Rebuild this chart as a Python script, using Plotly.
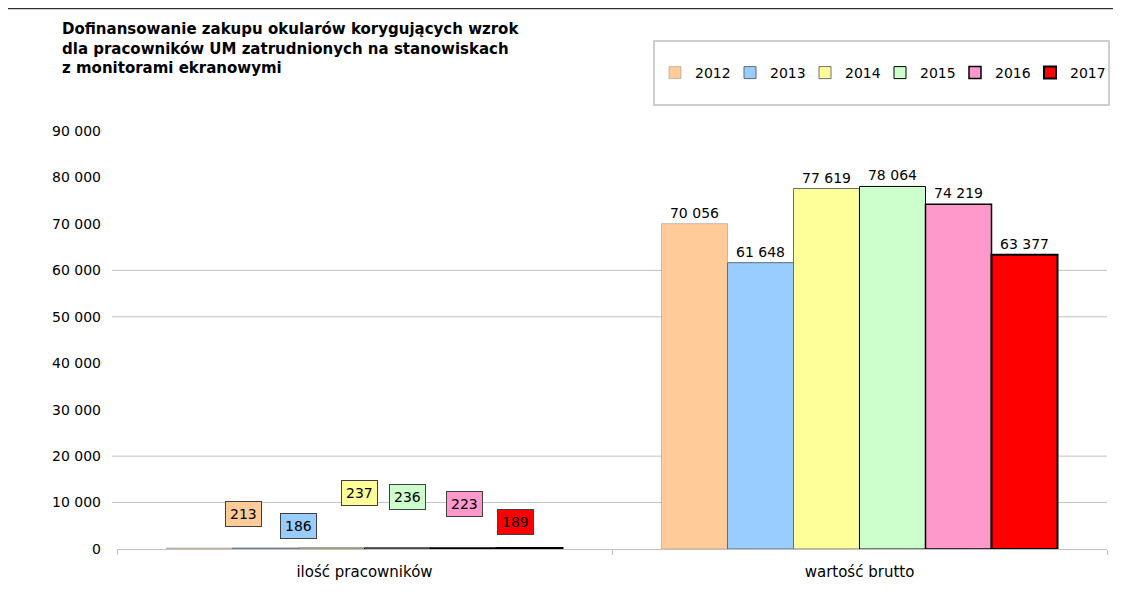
import plotly.graph_objects as go

categories = ["ilość pracowników", "wartość brutto"]
years = ["2012", "2013", "2014", "2015", "2016", "2017"]
employees = [213, 186, 237, 236, 223, 189]
gross_value = [70056, 61648, 77619, 78064, 74219, 63377]
colors = ["#FFCC99", "#99CCFF", "#FFFF99", "#CCFFCC", "#FF99CC", "#FF0000"]
edge_colors = ["#8a8a8a", "#5f6b78", "#6e6e6e", "#000000", "#000000", "#000000"]
edge_widths = [0.5, 1, 1, 1, 1.5, 2]

# placement of the boxed labels of the first group (category index units, y units)
label_x = [-0.245, -0.134, -0.011, 0.086, 0.203, 0.306]
label_y = [7536, 4952, 12057, 11196, 9689, 5813]

y_ticks = list(range(0, 90001, 10000))
visible_grid = [10000, 20000, 50000, 60000]

title_lines = [
    "Dofinansowanie zakupu okularów korygujących wzrok",
    "dla pracowników UM zatrudnionych na stanowiskach",
    "z monitorami ekranowymi",
]

FONT = "DejaVu Sans"
PAGE_OFFSET = 8  # default page margin of the html body
W, H = 1121 - PAGE_OFFSET, 599 - PAGE_OFFSET
PLOT_L, PLOT_T, PLOT_W, PLOT_H = 117, 131, 990, 418  # in screenshot pixels


def px_x(px):
    return (px - PLOT_L) / PLOT_W


def px_y(py):
    return (PLOT_T + PLOT_H - py) / PLOT_H


fig = go.Figure()
for i, yr in enumerate(years):
    fig.add_trace(go.Bar(
        name=yr,
        x=categories,
        y=[employees[i], gross_value[i]],
        text=["", f"{gross_value[i]:,}".replace(",", " ")],
        textposition="outside",
        textfont=dict(family=FONT, size=14, color="#000000"),
        cliponaxis=False,
        marker=dict(color=colors[i], line=dict(color=edge_colors[i], width=edge_widths[i])),
    ))

annotations = []
for i in range(len(years)):
    annotations.append(dict(
        x=label_x[i], y=label_y[i], xref="x", yref="y",
        text=str(employees[i]), showarrow=False,
        font=dict(family=FONT, size=14, color="#000000"),
        bgcolor=colors[i], bordercolor="#404040", borderwidth=1, borderpad=4,
    ))

shapes = []
for g in visible_grid:
    shapes.append(dict(type="line", xref="paper", yref="y", x0=-5 / PLOT_W, x1=1.0,
                       y0=g, y1=g, line=dict(color="#c0c0c0", width=1), layer="below"))
# legend frame
shapes.append(dict(type="rect", xref="paper", yref="paper",
                   x0=px_x(654), x1=px_x(1109), y0=px_y(105), y1=px_y(41),
                   line=dict(color="#bfbfbf", width=1.5), fillcolor="rgba(0,0,0,0)"))
# top rule
shapes.append(dict(type="line", xref="paper", yref="paper",
                   x0=px_x(0), x1=px_x(1121), y0=px_y(8.7), y1=px_y(8.7),
                   line=dict(color="#000000", width=1)))

fig.update_layout(
    width=W, height=H,
    margin=dict(l=PLOT_L - PAGE_OFFSET, r=W - (PLOT_L - PAGE_OFFSET) - PLOT_W,
                t=PLOT_T - PAGE_OFFSET, b=H - (PLOT_T - PAGE_OFFSET) - PLOT_H, pad=0),
    paper_bgcolor="white", plot_bgcolor="white",
    separators=", ",
    barmode="group", bargap=0.2, bargroupgap=0,
    title=dict(
        text="<br>".join(title_lines),
        x=(62 - PAGE_OFFSET) / W, xanchor="left", xref="container",
        y=1 - (34 - PAGE_OFFSET) / H, yanchor="top", yref="container",
        font=dict(family=FONT, size=15, color="#000000", weight="bold"),
    ),
    legend=dict(
        orientation="h", x=px_x(655), xanchor="left",
        y=px_y(57), yanchor="top",
        font=dict(family=FONT, size=14, color="#000000"),
        entrywidth=30, entrywidthmode="pixels",
        bgcolor="rgba(0,0,0,0)", borderwidth=0,
        traceorder="normal",
    ),
    xaxis=dict(
        type="category", showgrid=False, zeroline=False,
        showline=True, linecolor="#c0c0c0", linewidth=1,
        ticks="outside", ticklen=5, tickcolor="#c0c0c0", tickson="boundaries",
        tickfont=dict(family=FONT, size=15, color="#000000"),
        ticklabelstandoff=9,
    ),
    yaxis=dict(
        range=[0, 90000], tickvals=y_ticks, tickformat=",d",
        showgrid=False, zeroline=False, showline=False, ticks="",
        tickfont=dict(family=FONT, size=14, color="#000000"),
        ticklabelstandoff=15,
    ),
    annotations=annotations,
    shapes=shapes,
)

fig.write_html("out.html")
